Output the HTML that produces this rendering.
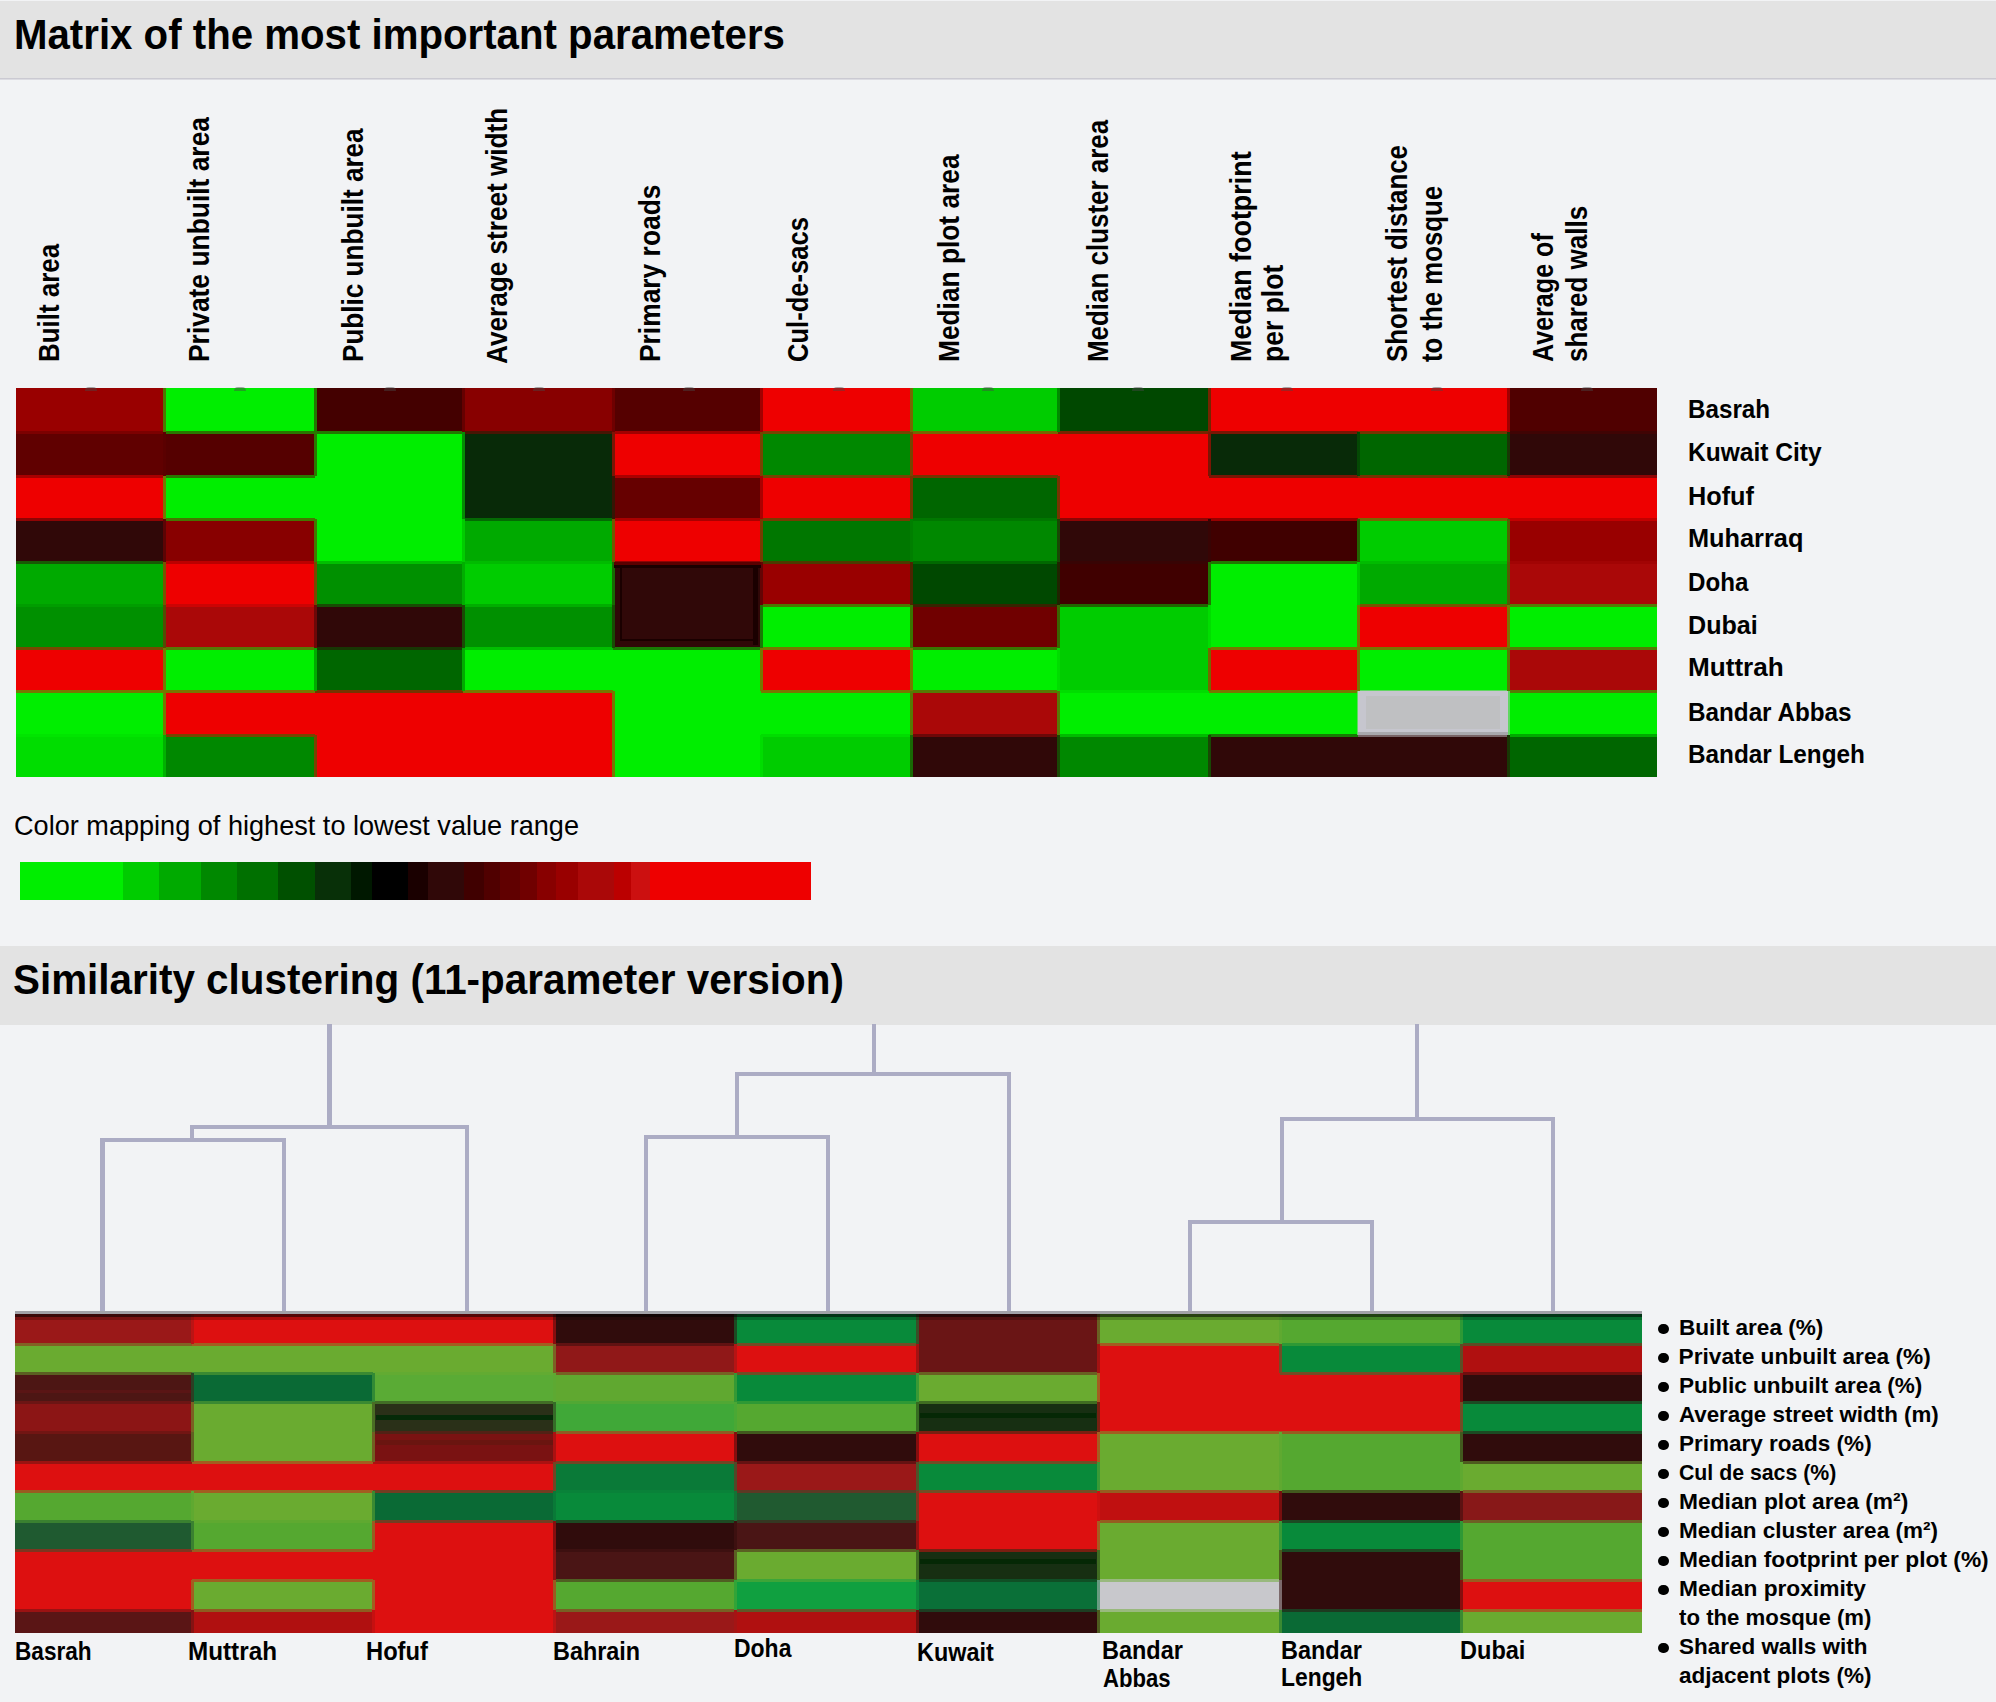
<!DOCTYPE html>
<html><head><meta charset="utf-8"><style>
html,body{margin:0;padding:0;}
body{width:1996px;height:1702px;background:#f2f3f5;position:relative;overflow:hidden;font-family:"Liberation Sans",sans-serif;}
.t{position:absolute;white-space:nowrap;line-height:1;transform-origin:0 0;color:#000;}
.r{position:absolute;}
</style></head><body>
<div class="r" style="left:0.00px;top:1.00px;width:1996.00px;height:77.00px;background:#e3e3e3;"></div>
<div class="r" style="left:0.00px;top:78.00px;width:1996.00px;height:1.00px;background:#cbcad2;"></div>
<div class="r" style="left:0.00px;top:79.00px;width:1996.00px;height:1.00px;background:#dcdce2;"></div>
<div class="t" style="left:13.68px;top:13.83px;font-size:41.90px;font-weight:700;transform:scaleX(0.9600)">Matrix of the most important parameters</div>
<div class="r" style="left:0.00px;top:946.00px;width:1996.00px;height:78.50px;background:#e3e3e3;"></div>
<div class="t" style="left:12.67px;top:959.45px;font-size:42.00px;font-weight:700;transform:scaleX(0.9620)">Similarity clustering (11-parameter version)</div>
<div class="r" style="left:16.00px;top:388.00px;width:148.00px;height:44.00px;background:#990000;"></div>
<div class="r" style="left:164.00px;top:388.00px;width:151.00px;height:44.00px;background:#00ee00;"></div>
<div class="r" style="left:315.00px;top:388.00px;width:148.00px;height:44.00px;background:#440000;"></div>
<div class="r" style="left:463.00px;top:388.00px;width:150.00px;height:44.00px;background:#880000;"></div>
<div class="r" style="left:613.00px;top:388.00px;width:148.00px;height:44.00px;background:#550000;"></div>
<div class="r" style="left:761.00px;top:388.00px;width:150.00px;height:44.00px;background:#ee0000;"></div>
<div class="r" style="left:911.00px;top:388.00px;width:147.00px;height:44.00px;background:#00cc00;"></div>
<div class="r" style="left:1058.00px;top:388.00px;width:151.00px;height:44.00px;background:#004800;"></div>
<div class="r" style="left:1209.00px;top:388.00px;width:149.00px;height:44.00px;background:#ee0000;"></div>
<div class="r" style="left:1358.00px;top:388.00px;width:150.00px;height:44.00px;background:#ee0000;"></div>
<div class="r" style="left:1508.00px;top:388.00px;width:149.00px;height:44.00px;background:#500000;"></div>
<div class="r" style="left:16.00px;top:432.00px;width:148.00px;height:44.00px;background:#600000;"></div>
<div class="r" style="left:164.00px;top:432.00px;width:151.00px;height:44.00px;background:#550000;"></div>
<div class="r" style="left:315.00px;top:432.00px;width:148.00px;height:44.00px;background:#00ee00;"></div>
<div class="r" style="left:463.00px;top:432.00px;width:150.00px;height:44.00px;background:#082a08;"></div>
<div class="r" style="left:613.00px;top:432.00px;width:148.00px;height:44.00px;background:#ee0000;"></div>
<div class="r" style="left:761.00px;top:432.00px;width:150.00px;height:44.00px;background:#008800;"></div>
<div class="r" style="left:911.00px;top:432.00px;width:147.00px;height:44.00px;background:#ee0000;"></div>
<div class="r" style="left:1058.00px;top:432.00px;width:151.00px;height:44.00px;background:#ee0000;"></div>
<div class="r" style="left:1209.00px;top:432.00px;width:149.00px;height:44.00px;background:#082a08;"></div>
<div class="r" style="left:1358.00px;top:432.00px;width:150.00px;height:44.00px;background:#006600;"></div>
<div class="r" style="left:1508.00px;top:432.00px;width:149.00px;height:44.00px;background:#300808;"></div>
<div class="r" style="left:16.00px;top:476.00px;width:148.00px;height:43.00px;background:#ee0000;"></div>
<div class="r" style="left:164.00px;top:476.00px;width:151.00px;height:43.00px;background:#00ee00;"></div>
<div class="r" style="left:315.00px;top:476.00px;width:148.00px;height:43.00px;background:#00ee00;"></div>
<div class="r" style="left:463.00px;top:476.00px;width:150.00px;height:43.00px;background:#082a08;"></div>
<div class="r" style="left:613.00px;top:476.00px;width:148.00px;height:43.00px;background:#660000;"></div>
<div class="r" style="left:761.00px;top:476.00px;width:150.00px;height:43.00px;background:#ee0000;"></div>
<div class="r" style="left:911.00px;top:476.00px;width:147.00px;height:43.00px;background:#006600;"></div>
<div class="r" style="left:1058.00px;top:476.00px;width:151.00px;height:43.00px;background:#ee0000;"></div>
<div class="r" style="left:1209.00px;top:476.00px;width:149.00px;height:43.00px;background:#ee0000;"></div>
<div class="r" style="left:1358.00px;top:476.00px;width:150.00px;height:43.00px;background:#ee0000;"></div>
<div class="r" style="left:1508.00px;top:476.00px;width:149.00px;height:43.00px;background:#ee0000;"></div>
<div class="r" style="left:16.00px;top:519.00px;width:148.00px;height:43.00px;background:#300808;"></div>
<div class="r" style="left:164.00px;top:519.00px;width:151.00px;height:43.00px;background:#880000;"></div>
<div class="r" style="left:315.00px;top:519.00px;width:148.00px;height:43.00px;background:#00ee00;"></div>
<div class="r" style="left:463.00px;top:519.00px;width:150.00px;height:43.00px;background:#00aa00;"></div>
<div class="r" style="left:613.00px;top:519.00px;width:148.00px;height:43.00px;background:#ee0000;"></div>
<div class="r" style="left:761.00px;top:519.00px;width:150.00px;height:43.00px;background:#007700;"></div>
<div class="r" style="left:911.00px;top:519.00px;width:147.00px;height:43.00px;background:#008800;"></div>
<div class="r" style="left:1058.00px;top:519.00px;width:151.00px;height:43.00px;background:#300808;"></div>
<div class="r" style="left:1209.00px;top:519.00px;width:149.00px;height:43.00px;background:#400000;"></div>
<div class="r" style="left:1358.00px;top:519.00px;width:150.00px;height:43.00px;background:#00cc00;"></div>
<div class="r" style="left:1508.00px;top:519.00px;width:149.00px;height:43.00px;background:#990000;"></div>
<div class="r" style="left:16.00px;top:562.00px;width:148.00px;height:43.00px;background:#00aa00;"></div>
<div class="r" style="left:164.00px;top:562.00px;width:151.00px;height:43.00px;background:#ee0000;"></div>
<div class="r" style="left:315.00px;top:562.00px;width:148.00px;height:43.00px;background:#009000;"></div>
<div class="r" style="left:463.00px;top:562.00px;width:150.00px;height:43.00px;background:#00cc00;"></div>
<div class="r" style="left:613.00px;top:562.00px;width:148.00px;height:43.00px;background:#300808;"></div>
<div class="r" style="left:761.00px;top:562.00px;width:150.00px;height:43.00px;background:#990000;"></div>
<div class="r" style="left:911.00px;top:562.00px;width:147.00px;height:43.00px;background:#004800;"></div>
<div class="r" style="left:1058.00px;top:562.00px;width:151.00px;height:43.00px;background:#400000;"></div>
<div class="r" style="left:1209.00px;top:562.00px;width:149.00px;height:43.00px;background:#00ee00;"></div>
<div class="r" style="left:1358.00px;top:562.00px;width:150.00px;height:43.00px;background:#00aa00;"></div>
<div class="r" style="left:1508.00px;top:562.00px;width:149.00px;height:43.00px;background:#aa0808;"></div>
<div class="r" style="left:16.00px;top:605.00px;width:148.00px;height:43.00px;background:#009000;"></div>
<div class="r" style="left:164.00px;top:605.00px;width:151.00px;height:43.00px;background:#aa0808;"></div>
<div class="r" style="left:315.00px;top:605.00px;width:148.00px;height:43.00px;background:#300808;"></div>
<div class="r" style="left:463.00px;top:605.00px;width:150.00px;height:43.00px;background:#009000;"></div>
<div class="r" style="left:613.00px;top:605.00px;width:148.00px;height:43.00px;background:#300808;"></div>
<div class="r" style="left:761.00px;top:605.00px;width:150.00px;height:43.00px;background:#00ee00;"></div>
<div class="r" style="left:911.00px;top:605.00px;width:147.00px;height:43.00px;background:#700000;"></div>
<div class="r" style="left:1058.00px;top:605.00px;width:151.00px;height:43.00px;background:#00cc00;"></div>
<div class="r" style="left:1209.00px;top:605.00px;width:149.00px;height:43.00px;background:#00ee00;"></div>
<div class="r" style="left:1358.00px;top:605.00px;width:150.00px;height:43.00px;background:#ee0000;"></div>
<div class="r" style="left:1508.00px;top:605.00px;width:149.00px;height:43.00px;background:#00ee00;"></div>
<div class="r" style="left:16.00px;top:648.00px;width:148.00px;height:43.00px;background:#ee0000;"></div>
<div class="r" style="left:164.00px;top:648.00px;width:151.00px;height:43.00px;background:#00ee00;"></div>
<div class="r" style="left:315.00px;top:648.00px;width:148.00px;height:43.00px;background:#006600;"></div>
<div class="r" style="left:463.00px;top:648.00px;width:150.00px;height:43.00px;background:#00ee00;"></div>
<div class="r" style="left:613.00px;top:648.00px;width:148.00px;height:43.00px;background:#00ee00;"></div>
<div class="r" style="left:761.00px;top:648.00px;width:150.00px;height:43.00px;background:#ee0000;"></div>
<div class="r" style="left:911.00px;top:648.00px;width:147.00px;height:43.00px;background:#00ee00;"></div>
<div class="r" style="left:1058.00px;top:648.00px;width:151.00px;height:43.00px;background:#00cc00;"></div>
<div class="r" style="left:1209.00px;top:648.00px;width:149.00px;height:43.00px;background:#ee0000;"></div>
<div class="r" style="left:1358.00px;top:648.00px;width:150.00px;height:43.00px;background:#00ee00;"></div>
<div class="r" style="left:1508.00px;top:648.00px;width:149.00px;height:43.00px;background:#aa0808;"></div>
<div class="r" style="left:16.00px;top:691.00px;width:148.00px;height:44.00px;background:#00ee00;"></div>
<div class="r" style="left:164.00px;top:691.00px;width:151.00px;height:44.00px;background:#ee0000;"></div>
<div class="r" style="left:315.00px;top:691.00px;width:148.00px;height:44.00px;background:#ee0000;"></div>
<div class="r" style="left:463.00px;top:691.00px;width:150.00px;height:44.00px;background:#ee0000;"></div>
<div class="r" style="left:613.00px;top:691.00px;width:148.00px;height:44.00px;background:#00ee00;"></div>
<div class="r" style="left:761.00px;top:691.00px;width:150.00px;height:44.00px;background:#00ee00;"></div>
<div class="r" style="left:911.00px;top:691.00px;width:147.00px;height:44.00px;background:#aa0808;"></div>
<div class="r" style="left:1058.00px;top:691.00px;width:151.00px;height:44.00px;background:#00ee00;"></div>
<div class="r" style="left:1209.00px;top:691.00px;width:149.00px;height:44.00px;background:#00ee00;"></div>
<div class="r" style="left:1358.00px;top:691.00px;width:150.00px;height:44.00px;background:#c0c0c4;"></div>
<div class="r" style="left:1508.00px;top:691.00px;width:149.00px;height:44.00px;background:#00ee00;"></div>
<div class="r" style="left:16.00px;top:735.00px;width:148.00px;height:42.00px;background:#00dd00;"></div>
<div class="r" style="left:164.00px;top:735.00px;width:151.00px;height:42.00px;background:#008800;"></div>
<div class="r" style="left:315.00px;top:735.00px;width:148.00px;height:42.00px;background:#ee0000;"></div>
<div class="r" style="left:463.00px;top:735.00px;width:150.00px;height:42.00px;background:#ee0000;"></div>
<div class="r" style="left:613.00px;top:735.00px;width:148.00px;height:42.00px;background:#00ee00;"></div>
<div class="r" style="left:761.00px;top:735.00px;width:150.00px;height:42.00px;background:#00cc00;"></div>
<div class="r" style="left:911.00px;top:735.00px;width:147.00px;height:42.00px;background:#300808;"></div>
<div class="r" style="left:1058.00px;top:735.00px;width:151.00px;height:42.00px;background:#008800;"></div>
<div class="r" style="left:1209.00px;top:735.00px;width:149.00px;height:42.00px;background:#300808;"></div>
<div class="r" style="left:1358.00px;top:735.00px;width:150.00px;height:42.00px;background:#300808;"></div>
<div class="r" style="left:1508.00px;top:735.00px;width:149.00px;height:42.00px;background:#006600;"></div>
<div class="r" style="left:16.00px;top:431.00px;width:148.00px;height:3.00px;background:#7c0000;"></div>
<div class="r" style="left:164.00px;top:431.00px;width:151.00px;height:3.00px;background:#2a7700;"></div>
<div class="r" style="left:315.00px;top:431.00px;width:148.00px;height:3.00px;background:#227700;"></div>
<div class="r" style="left:463.00px;top:431.00px;width:150.00px;height:3.00px;background:#481504;"></div>
<div class="r" style="left:613.00px;top:431.00px;width:148.00px;height:3.00px;background:#a10000;"></div>
<div class="r" style="left:761.00px;top:431.00px;width:150.00px;height:3.00px;background:#774400;"></div>
<div class="r" style="left:911.00px;top:431.00px;width:147.00px;height:3.00px;background:#776600;"></div>
<div class="r" style="left:1058.00px;top:431.00px;width:151.00px;height:3.00px;background:#772400;"></div>
<div class="r" style="left:1209.00px;top:431.00px;width:149.00px;height:3.00px;background:#7b1504;"></div>
<div class="r" style="left:1358.00px;top:431.00px;width:150.00px;height:3.00px;background:#773300;"></div>
<div class="r" style="left:1508.00px;top:431.00px;width:149.00px;height:3.00px;background:#400404;"></div>
<div class="r" style="left:16.00px;top:475.00px;width:148.00px;height:3.00px;background:#a70000;"></div>
<div class="r" style="left:164.00px;top:475.00px;width:151.00px;height:3.00px;background:#2a7700;"></div>
<div class="r" style="left:613.00px;top:475.00px;width:148.00px;height:3.00px;background:#aa0000;"></div>
<div class="r" style="left:761.00px;top:475.00px;width:150.00px;height:3.00px;background:#774400;"></div>
<div class="r" style="left:911.00px;top:475.00px;width:147.00px;height:3.00px;background:#773300;"></div>
<div class="r" style="left:1209.00px;top:475.00px;width:149.00px;height:3.00px;background:#7b1504;"></div>
<div class="r" style="left:1358.00px;top:475.00px;width:150.00px;height:3.00px;background:#773300;"></div>
<div class="r" style="left:1508.00px;top:475.00px;width:149.00px;height:3.00px;background:#8f0404;"></div>
<div class="r" style="left:16.00px;top:518.00px;width:148.00px;height:3.00px;background:#8f0404;"></div>
<div class="r" style="left:164.00px;top:518.00px;width:151.00px;height:3.00px;background:#447700;"></div>
<div class="r" style="left:463.00px;top:518.00px;width:150.00px;height:3.00px;background:#046a04;"></div>
<div class="r" style="left:613.00px;top:518.00px;width:148.00px;height:3.00px;background:#aa0000;"></div>
<div class="r" style="left:761.00px;top:518.00px;width:150.00px;height:3.00px;background:#773b00;"></div>
<div class="r" style="left:911.00px;top:518.00px;width:147.00px;height:3.00px;background:#007700;"></div>
<div class="r" style="left:1058.00px;top:518.00px;width:151.00px;height:3.00px;background:#8f0404;"></div>
<div class="r" style="left:1209.00px;top:518.00px;width:149.00px;height:3.00px;background:#970000;"></div>
<div class="r" style="left:1358.00px;top:518.00px;width:150.00px;height:3.00px;background:#776600;"></div>
<div class="r" style="left:1508.00px;top:518.00px;width:149.00px;height:3.00px;background:#c30000;"></div>
<div class="r" style="left:16.00px;top:561.00px;width:148.00px;height:3.00px;background:#185904;"></div>
<div class="r" style="left:164.00px;top:561.00px;width:151.00px;height:3.00px;background:#bb0000;"></div>
<div class="r" style="left:315.00px;top:561.00px;width:148.00px;height:3.00px;background:#00bf00;"></div>
<div class="r" style="left:463.00px;top:561.00px;width:150.00px;height:3.00px;background:#00bb00;"></div>
<div class="r" style="left:613.00px;top:561.00px;width:148.00px;height:3.00px;background:#8f0404;"></div>
<div class="r" style="left:761.00px;top:561.00px;width:150.00px;height:3.00px;background:#4c3b00;"></div>
<div class="r" style="left:911.00px;top:561.00px;width:147.00px;height:3.00px;background:#006800;"></div>
<div class="r" style="left:1058.00px;top:561.00px;width:151.00px;height:3.00px;background:#380404;"></div>
<div class="r" style="left:1209.00px;top:561.00px;width:149.00px;height:3.00px;background:#207700;"></div>
<div class="r" style="left:1358.00px;top:561.00px;width:150.00px;height:3.00px;background:#00bb00;"></div>
<div class="r" style="left:1508.00px;top:561.00px;width:149.00px;height:3.00px;background:#a10404;"></div>
<div class="r" style="left:16.00px;top:604.00px;width:148.00px;height:3.00px;background:#009d00;"></div>
<div class="r" style="left:164.00px;top:604.00px;width:151.00px;height:3.00px;background:#cc0404;"></div>
<div class="r" style="left:315.00px;top:604.00px;width:148.00px;height:3.00px;background:#184c04;"></div>
<div class="r" style="left:463.00px;top:604.00px;width:150.00px;height:3.00px;background:#00ae00;"></div>
<div class="r" style="left:761.00px;top:604.00px;width:150.00px;height:3.00px;background:#4c7700;"></div>
<div class="r" style="left:911.00px;top:604.00px;width:147.00px;height:3.00px;background:#382400;"></div>
<div class="r" style="left:1058.00px;top:604.00px;width:151.00px;height:3.00px;background:#206600;"></div>
<div class="r" style="left:1358.00px;top:604.00px;width:150.00px;height:3.00px;background:#775500;"></div>
<div class="r" style="left:1508.00px;top:604.00px;width:149.00px;height:3.00px;background:#557b04;"></div>
<div class="r" style="left:16.00px;top:647.00px;width:148.00px;height:3.00px;background:#774800;"></div>
<div class="r" style="left:164.00px;top:647.00px;width:151.00px;height:3.00px;background:#557b04;"></div>
<div class="r" style="left:315.00px;top:647.00px;width:148.00px;height:3.00px;background:#183704;"></div>
<div class="r" style="left:463.00px;top:647.00px;width:150.00px;height:3.00px;background:#00bf00;"></div>
<div class="r" style="left:613.00px;top:647.00px;width:148.00px;height:3.00px;background:#187b04;"></div>
<div class="r" style="left:761.00px;top:647.00px;width:150.00px;height:3.00px;background:#777700;"></div>
<div class="r" style="left:911.00px;top:647.00px;width:147.00px;height:3.00px;background:#387700;"></div>
<div class="r" style="left:1209.00px;top:647.00px;width:149.00px;height:3.00px;background:#777700;"></div>
<div class="r" style="left:1358.00px;top:647.00px;width:150.00px;height:3.00px;background:#777700;"></div>
<div class="r" style="left:1508.00px;top:647.00px;width:149.00px;height:3.00px;background:#557b04;"></div>
<div class="r" style="left:16.00px;top:690.00px;width:148.00px;height:3.00px;background:#777700;"></div>
<div class="r" style="left:164.00px;top:690.00px;width:151.00px;height:3.00px;background:#777700;"></div>
<div class="r" style="left:315.00px;top:690.00px;width:148.00px;height:3.00px;background:#773300;"></div>
<div class="r" style="left:463.00px;top:690.00px;width:150.00px;height:3.00px;background:#777700;"></div>
<div class="r" style="left:761.00px;top:690.00px;width:150.00px;height:3.00px;background:#777700;"></div>
<div class="r" style="left:911.00px;top:690.00px;width:147.00px;height:3.00px;background:#557b04;"></div>
<div class="r" style="left:1058.00px;top:690.00px;width:151.00px;height:3.00px;background:#00dd00;"></div>
<div class="r" style="left:1209.00px;top:690.00px;width:149.00px;height:3.00px;background:#777700;"></div>
<div class="r" style="left:1358.00px;top:690.00px;width:150.00px;height:3.00px;background:#60d762;"></div>
<div class="r" style="left:1508.00px;top:690.00px;width:149.00px;height:3.00px;background:#557b04;"></div>
<div class="r" style="left:16.00px;top:734.00px;width:148.00px;height:3.00px;background:#00e500;"></div>
<div class="r" style="left:164.00px;top:734.00px;width:151.00px;height:3.00px;background:#774400;"></div>
<div class="r" style="left:761.00px;top:734.00px;width:150.00px;height:3.00px;background:#00dd00;"></div>
<div class="r" style="left:911.00px;top:734.00px;width:147.00px;height:3.00px;background:#6d0808;"></div>
<div class="r" style="left:1058.00px;top:734.00px;width:151.00px;height:3.00px;background:#00bb00;"></div>
<div class="r" style="left:1209.00px;top:734.00px;width:149.00px;height:3.00px;background:#187b04;"></div>
<div class="r" style="left:1358.00px;top:734.00px;width:150.00px;height:3.00px;background:#786466;"></div>
<div class="r" style="left:1508.00px;top:734.00px;width:149.00px;height:3.00px;background:#00aa00;"></div>
<div class="r" style="left:163.00px;top:388.00px;width:3.00px;height:44.00px;background:#4c7700;"></div>
<div class="r" style="left:163.00px;top:432.00px;width:3.00px;height:44.00px;background:#5a0000;"></div>
<div class="r" style="left:163.00px;top:476.00px;width:3.00px;height:43.00px;background:#777700;"></div>
<div class="r" style="left:163.00px;top:519.00px;width:3.00px;height:43.00px;background:#5c0404;"></div>
<div class="r" style="left:163.00px;top:562.00px;width:3.00px;height:43.00px;background:#775500;"></div>
<div class="r" style="left:163.00px;top:605.00px;width:3.00px;height:43.00px;background:#554c04;"></div>
<div class="r" style="left:163.00px;top:648.00px;width:3.00px;height:43.00px;background:#777700;"></div>
<div class="r" style="left:163.00px;top:691.00px;width:3.00px;height:44.00px;background:#777700;"></div>
<div class="r" style="left:163.00px;top:735.00px;width:3.00px;height:42.00px;background:#00b200;"></div>
<div class="r" style="left:314.00px;top:388.00px;width:3.00px;height:44.00px;background:#227700;"></div>
<div class="r" style="left:314.00px;top:432.00px;width:3.00px;height:44.00px;background:#2a7700;"></div>
<div class="r" style="left:314.00px;top:519.00px;width:3.00px;height:43.00px;background:#447700;"></div>
<div class="r" style="left:314.00px;top:562.00px;width:3.00px;height:43.00px;background:#774800;"></div>
<div class="r" style="left:314.00px;top:605.00px;width:3.00px;height:43.00px;background:#6d0808;"></div>
<div class="r" style="left:314.00px;top:648.00px;width:3.00px;height:43.00px;background:#00aa00;"></div>
<div class="r" style="left:314.00px;top:735.00px;width:3.00px;height:42.00px;background:#774400;"></div>
<div class="r" style="left:462.00px;top:388.00px;width:3.00px;height:44.00px;background:#660000;"></div>
<div class="r" style="left:462.00px;top:432.00px;width:3.00px;height:44.00px;background:#048c04;"></div>
<div class="r" style="left:462.00px;top:476.00px;width:3.00px;height:43.00px;background:#048c04;"></div>
<div class="r" style="left:462.00px;top:519.00px;width:3.00px;height:43.00px;background:#00cc00;"></div>
<div class="r" style="left:462.00px;top:562.00px;width:3.00px;height:43.00px;background:#00ae00;"></div>
<div class="r" style="left:462.00px;top:605.00px;width:3.00px;height:43.00px;background:#184c04;"></div>
<div class="r" style="left:462.00px;top:648.00px;width:3.00px;height:43.00px;background:#00aa00;"></div>
<div class="r" style="left:612.00px;top:388.00px;width:3.00px;height:44.00px;background:#6e0000;"></div>
<div class="r" style="left:612.00px;top:432.00px;width:3.00px;height:44.00px;background:#7b1504;"></div>
<div class="r" style="left:612.00px;top:476.00px;width:3.00px;height:43.00px;background:#371504;"></div>
<div class="r" style="left:612.00px;top:519.00px;width:3.00px;height:43.00px;background:#775500;"></div>
<div class="r" style="left:612.00px;top:562.00px;width:3.00px;height:43.00px;background:#186a04;"></div>
<div class="r" style="left:612.00px;top:605.00px;width:3.00px;height:43.00px;background:#184c04;"></div>
<div class="r" style="left:612.00px;top:691.00px;width:3.00px;height:44.00px;background:#777700;"></div>
<div class="r" style="left:612.00px;top:735.00px;width:3.00px;height:42.00px;background:#777700;"></div>
<div class="r" style="left:760.00px;top:388.00px;width:3.00px;height:44.00px;background:#a10000;"></div>
<div class="r" style="left:760.00px;top:432.00px;width:3.00px;height:44.00px;background:#774400;"></div>
<div class="r" style="left:760.00px;top:476.00px;width:3.00px;height:43.00px;background:#aa0000;"></div>
<div class="r" style="left:760.00px;top:519.00px;width:3.00px;height:43.00px;background:#773b00;"></div>
<div class="r" style="left:760.00px;top:562.00px;width:3.00px;height:43.00px;background:#640404;"></div>
<div class="r" style="left:760.00px;top:605.00px;width:3.00px;height:43.00px;background:#187b04;"></div>
<div class="r" style="left:760.00px;top:648.00px;width:3.00px;height:43.00px;background:#777700;"></div>
<div class="r" style="left:760.00px;top:735.00px;width:3.00px;height:42.00px;background:#00dd00;"></div>
<div class="r" style="left:910.00px;top:388.00px;width:3.00px;height:44.00px;background:#776600;"></div>
<div class="r" style="left:910.00px;top:432.00px;width:3.00px;height:44.00px;background:#774400;"></div>
<div class="r" style="left:910.00px;top:476.00px;width:3.00px;height:43.00px;background:#773300;"></div>
<div class="r" style="left:910.00px;top:519.00px;width:3.00px;height:43.00px;background:#007f00;"></div>
<div class="r" style="left:910.00px;top:562.00px;width:3.00px;height:43.00px;background:#4c2400;"></div>
<div class="r" style="left:910.00px;top:605.00px;width:3.00px;height:43.00px;background:#387700;"></div>
<div class="r" style="left:910.00px;top:648.00px;width:3.00px;height:43.00px;background:#777700;"></div>
<div class="r" style="left:910.00px;top:691.00px;width:3.00px;height:44.00px;background:#557b04;"></div>
<div class="r" style="left:910.00px;top:735.00px;width:3.00px;height:42.00px;background:#186a04;"></div>
<div class="r" style="left:1057.00px;top:388.00px;width:3.00px;height:44.00px;background:#008a00;"></div>
<div class="r" style="left:1057.00px;top:476.00px;width:3.00px;height:43.00px;background:#773300;"></div>
<div class="r" style="left:1057.00px;top:519.00px;width:3.00px;height:43.00px;background:#184804;"></div>
<div class="r" style="left:1057.00px;top:562.00px;width:3.00px;height:43.00px;background:#202400;"></div>
<div class="r" style="left:1057.00px;top:605.00px;width:3.00px;height:43.00px;background:#386600;"></div>
<div class="r" style="left:1057.00px;top:648.00px;width:3.00px;height:43.00px;background:#00dd00;"></div>
<div class="r" style="left:1057.00px;top:691.00px;width:3.00px;height:44.00px;background:#557b04;"></div>
<div class="r" style="left:1057.00px;top:735.00px;width:3.00px;height:42.00px;background:#184804;"></div>
<div class="r" style="left:1208.00px;top:388.00px;width:3.00px;height:44.00px;background:#772400;"></div>
<div class="r" style="left:1208.00px;top:432.00px;width:3.00px;height:44.00px;background:#7b1504;"></div>
<div class="r" style="left:1208.00px;top:519.00px;width:3.00px;height:43.00px;background:#380404;"></div>
<div class="r" style="left:1208.00px;top:562.00px;width:3.00px;height:43.00px;background:#207700;"></div>
<div class="r" style="left:1208.00px;top:605.00px;width:3.00px;height:43.00px;background:#00dd00;"></div>
<div class="r" style="left:1208.00px;top:648.00px;width:3.00px;height:43.00px;background:#776600;"></div>
<div class="r" style="left:1208.00px;top:735.00px;width:3.00px;height:42.00px;background:#184804;"></div>
<div class="r" style="left:1357.00px;top:432.00px;width:3.00px;height:44.00px;background:#044804;"></div>
<div class="r" style="left:1357.00px;top:519.00px;width:3.00px;height:43.00px;background:#206600;"></div>
<div class="r" style="left:1357.00px;top:562.00px;width:3.00px;height:43.00px;background:#00cc00;"></div>
<div class="r" style="left:1357.00px;top:605.00px;width:3.00px;height:43.00px;background:#777700;"></div>
<div class="r" style="left:1357.00px;top:648.00px;width:3.00px;height:43.00px;background:#777700;"></div>
<div class="r" style="left:1357.00px;top:691.00px;width:3.00px;height:44.00px;background:#60d762;"></div>
<div class="r" style="left:1507.00px;top:388.00px;width:3.00px;height:44.00px;background:#9f0000;"></div>
<div class="r" style="left:1507.00px;top:432.00px;width:3.00px;height:44.00px;background:#183704;"></div>
<div class="r" style="left:1507.00px;top:519.00px;width:3.00px;height:43.00px;background:#4c6600;"></div>
<div class="r" style="left:1507.00px;top:562.00px;width:3.00px;height:43.00px;background:#555904;"></div>
<div class="r" style="left:1507.00px;top:605.00px;width:3.00px;height:43.00px;background:#777700;"></div>
<div class="r" style="left:1507.00px;top:648.00px;width:3.00px;height:43.00px;background:#557b04;"></div>
<div class="r" style="left:1507.00px;top:691.00px;width:3.00px;height:44.00px;background:#60d762;"></div>
<div class="r" style="left:1507.00px;top:735.00px;width:3.00px;height:42.00px;background:#183704;"></div>
<div class="r" style="left:614.00px;top:562.00px;width:147.00px;height:3.00px;background:#5a0000;"></div>
<div class="r" style="left:614.00px;top:565.00px;width:147.00px;height:3.00px;background:#1a0000;"></div>
<div class="r" style="left:619.5px;top:567px;width:134px;height:72px;border:2px solid #1a0000;border-top:none"></div>
<div class="r" style="left:753.00px;top:565.00px;width:5.00px;height:80.00px;background:#1a0000;"></div>
<div class="r" style="left:1358.00px;top:691.00px;width:150.00px;height:44.00px;background:#c6c6ce;"></div>
<div class="r" style="left:1366.00px;top:696.00px;width:134.00px;height:33.00px;background:#bfc0c2;"></div>
<div class="r" style="left:1358.00px;top:732.00px;width:150.00px;height:3.00px;background:#a8a8ac;"></div>
<div class="r" style="left:84.5px;top:386.5px;width:12px;height:4px;border-radius:6px 6px 0 0;background:rgba(70,70,70,0.45)"></div>
<div class="r" style="left:234.1px;top:386.5px;width:12px;height:4px;border-radius:6px 6px 0 0;background:rgba(70,70,70,0.45)"></div>
<div class="r" style="left:383.7px;top:386.5px;width:12px;height:4px;border-radius:6px 6px 0 0;background:rgba(70,70,70,0.45)"></div>
<div class="r" style="left:533.3px;top:386.5px;width:12px;height:4px;border-radius:6px 6px 0 0;background:rgba(70,70,70,0.45)"></div>
<div class="r" style="left:682.9px;top:386.5px;width:12px;height:4px;border-radius:6px 6px 0 0;background:rgba(70,70,70,0.45)"></div>
<div class="r" style="left:832.5px;top:386.5px;width:12px;height:4px;border-radius:6px 6px 0 0;background:rgba(70,70,70,0.45)"></div>
<div class="r" style="left:982.1px;top:386.5px;width:12px;height:4px;border-radius:6px 6px 0 0;background:rgba(70,70,70,0.45)"></div>
<div class="r" style="left:1131.7px;top:386.5px;width:12px;height:4px;border-radius:6px 6px 0 0;background:rgba(70,70,70,0.45)"></div>
<div class="r" style="left:1281.3px;top:386.5px;width:12px;height:4px;border-radius:6px 6px 0 0;background:rgba(70,70,70,0.45)"></div>
<div class="r" style="left:1430.9px;top:386.5px;width:12px;height:4px;border-radius:6px 6px 0 0;background:rgba(70,70,70,0.45)"></div>
<div class="r" style="left:1580.5px;top:386.5px;width:12px;height:4px;border-radius:6px 6px 0 0;background:rgba(70,70,70,0.45)"></div>
<div class="t" style="left:34.51px;top:362.21px;font-size:28.70px;font-weight:700;transform:rotate(-90deg) scaleX(0.9033)">Built area</div>
<div class="t" style="left:185.21px;top:362.35px;font-size:28.70px;font-weight:700;transform:rotate(-90deg) scaleX(0.9202)">Private unbuilt area</div>
<div class="t" style="left:338.91px;top:362.33px;font-size:28.70px;font-weight:700;transform:rotate(-90deg) scaleX(0.9103)">Public unbuilt area</div>
<div class="t" style="left:482.71px;top:363.83px;font-size:28.70px;font-weight:700;transform:rotate(-90deg) scaleX(0.9114)">Average street width</div>
<div class="t" style="left:635.71px;top:362.35px;font-size:28.70px;font-weight:700;transform:rotate(-90deg) scaleX(0.9198)">Primary roads</div>
<div class="t" style="left:783.71px;top:362.29px;font-size:28.70px;font-weight:700;transform:rotate(-90deg) scaleX(0.8913)">Cul-de-sacs</div>
<div class="t" style="left:934.71px;top:362.34px;font-size:28.70px;font-weight:700;transform:rotate(-90deg) scaleX(0.9167)">Median plot area</div>
<div class="t" style="left:1084.31px;top:362.32px;font-size:28.70px;font-weight:700;transform:rotate(-90deg) scaleX(0.9040)">Median cluster area</div>
<div class="t" style="left:1226.71px;top:362.38px;font-size:28.70px;font-weight:700;transform:rotate(-90deg) scaleX(0.9374)">Median footprint</div>
<div class="t" style="left:1259.21px;top:362.36px;font-size:28.70px;font-weight:700;transform:rotate(-90deg) scaleX(0.9246)">per plot</div>
<div class="t" style="left:1383.21px;top:362.31px;font-size:28.70px;font-weight:700;transform:rotate(-90deg) scaleX(0.9014)">Shortest distance</div>
<div class="t" style="left:1417.51px;top:362.30px;font-size:28.70px;font-weight:700;transform:rotate(-90deg) scaleX(0.8980)">to the mosque</div>
<div class="t" style="left:1529.41px;top:362.26px;font-size:28.70px;font-weight:700;transform:rotate(-90deg) scaleX(0.8745)">Average of</div>
<div class="t" style="left:1562.71px;top:362.32px;font-size:28.70px;font-weight:700;transform:rotate(-90deg) scaleX(0.9064)">shared walls</div>
<div class="t" style="left:1687.81px;top:395.78px;font-size:26.60px;font-weight:700;transform:scaleX(0.9100)">Basrah</div>
<div class="t" style="left:1687.78px;top:438.78px;font-size:26.60px;font-weight:700;transform:scaleX(0.9230)">Kuwait City</div>
<div class="t" style="left:1687.73px;top:482.78px;font-size:26.60px;font-weight:700;transform:scaleX(0.9500)">Hofuf</div>
<div class="t" style="left:1687.73px;top:525.38px;font-size:26.60px;font-weight:700;transform:scaleX(0.9520)">Muharraq</div>
<div class="t" style="left:1687.81px;top:569.18px;font-size:26.60px;font-weight:700;transform:scaleX(0.9070)">Doha</div>
<div class="t" style="left:1687.74px;top:612.28px;font-size:26.60px;font-weight:700;transform:scaleX(0.9440)">Dubai</div>
<div class="t" style="left:1687.67px;top:653.68px;font-size:26.60px;font-weight:700;transform:scaleX(0.9820)">Muttrah</div>
<div class="t" style="left:1687.80px;top:699.38px;font-size:26.60px;font-weight:700;transform:scaleX(0.9120)">Bandar Abbas</div>
<div class="t" style="left:1687.80px;top:740.78px;font-size:26.60px;font-weight:700;transform:scaleX(0.9140)">Bandar Lengeh</div>
<div class="t" style="left:14.24px;top:811.80px;font-size:28.00px;font-weight:400;transform:scaleX(0.9680)">Color mapping of highest to lowest value range</div>
<div class="r" style="left:20.20px;top:861.50px;width:102.80px;height:38.80px;background:#00ee00;"></div>
<div class="r" style="left:123.00px;top:861.50px;width:36.00px;height:38.80px;background:#00cc00;"></div>
<div class="r" style="left:159.00px;top:861.50px;width:42.00px;height:38.80px;background:#00aa00;"></div>
<div class="r" style="left:201.00px;top:861.50px;width:36.00px;height:38.80px;background:#008800;"></div>
<div class="r" style="left:237.00px;top:861.50px;width:41.00px;height:38.80px;background:#007000;"></div>
<div class="r" style="left:278.00px;top:861.50px;width:37.00px;height:38.80px;background:#005000;"></div>
<div class="r" style="left:315.00px;top:861.50px;width:36.00px;height:38.80px;background:#083008;"></div>
<div class="r" style="left:351.00px;top:861.50px;width:21.00px;height:38.80px;background:#001800;"></div>
<div class="r" style="left:372.00px;top:861.50px;width:36.00px;height:38.80px;background:#000000;"></div>
<div class="r" style="left:408.00px;top:861.50px;width:20.00px;height:38.80px;background:#1a0000;"></div>
<div class="r" style="left:428.00px;top:861.50px;width:36.00px;height:38.80px;background:#300808;"></div>
<div class="r" style="left:464.00px;top:861.50px;width:20.00px;height:38.80px;background:#400000;"></div>
<div class="r" style="left:484.00px;top:861.50px;width:16.00px;height:38.80px;background:#500000;"></div>
<div class="r" style="left:500.00px;top:861.50px;width:20.00px;height:38.80px;background:#600000;"></div>
<div class="r" style="left:520.00px;top:861.50px;width:17.00px;height:38.80px;background:#700000;"></div>
<div class="r" style="left:537.00px;top:861.50px;width:19.00px;height:38.80px;background:#880000;"></div>
<div class="r" style="left:556.00px;top:861.50px;width:22.00px;height:38.80px;background:#990000;"></div>
<div class="r" style="left:578.00px;top:861.50px;width:36.00px;height:38.80px;background:#aa0808;"></div>
<div class="r" style="left:614.00px;top:861.50px;width:17.00px;height:38.80px;background:#bb0000;"></div>
<div class="r" style="left:631.00px;top:861.50px;width:19.00px;height:38.80px;background:#cc1010;"></div>
<div class="r" style="left:650.00px;top:861.50px;width:161.40px;height:38.80px;background:#ee0000;"></div>
<div class="r" style="left:327.25px;top:1024.00px;width:4.50px;height:105.25px;background:#acacc4;"></div>
<div class="r" style="left:189.75px;top:1124.75px;width:279.50px;height:4.50px;background:#acacc4;"></div>
<div class="r" style="left:189.75px;top:1127.00px;width:4.50px;height:15.25px;background:#acacc4;"></div>
<div class="r" style="left:100.25px;top:1137.75px;width:186.00px;height:4.50px;background:#acacc4;"></div>
<div class="r" style="left:100.25px;top:1140.00px;width:4.50px;height:175.25px;background:#acacc4;"></div>
<div class="r" style="left:281.75px;top:1140.00px;width:4.50px;height:175.25px;background:#acacc4;"></div>
<div class="r" style="left:464.75px;top:1127.00px;width:4.50px;height:188.25px;background:#acacc4;"></div>
<div class="r" style="left:871.75px;top:1024.00px;width:4.50px;height:52.25px;background:#acacc4;"></div>
<div class="r" style="left:734.75px;top:1071.75px;width:276.50px;height:4.50px;background:#acacc4;"></div>
<div class="r" style="left:734.75px;top:1074.00px;width:4.50px;height:65.25px;background:#acacc4;"></div>
<div class="r" style="left:1006.75px;top:1074.00px;width:4.50px;height:241.25px;background:#acacc4;"></div>
<div class="r" style="left:643.75px;top:1134.75px;width:186.50px;height:4.50px;background:#acacc4;"></div>
<div class="r" style="left:643.75px;top:1137.00px;width:4.50px;height:178.25px;background:#acacc4;"></div>
<div class="r" style="left:825.75px;top:1137.00px;width:4.50px;height:178.25px;background:#acacc4;"></div>
<div class="r" style="left:1414.75px;top:1024.00px;width:4.50px;height:97.25px;background:#acacc4;"></div>
<div class="r" style="left:1279.75px;top:1116.75px;width:275.50px;height:4.50px;background:#acacc4;"></div>
<div class="r" style="left:1279.75px;top:1119.00px;width:4.50px;height:105.25px;background:#acacc4;"></div>
<div class="r" style="left:1550.75px;top:1119.00px;width:4.50px;height:196.25px;background:#acacc4;"></div>
<div class="r" style="left:1187.75px;top:1219.75px;width:186.50px;height:4.50px;background:#acacc4;"></div>
<div class="r" style="left:1187.75px;top:1222.00px;width:4.50px;height:93.25px;background:#acacc4;"></div>
<div class="r" style="left:1369.75px;top:1222.00px;width:4.50px;height:93.25px;background:#acacc4;"></div>
<div class="r" style="left:15.00px;top:1314.00px;width:177.00px;height:30.00px;background:#9a1818;"></div>
<div class="r" style="left:15.00px;top:1344.00px;width:177.00px;height:29.00px;background:#6aab30;"></div>
<div class="r" style="left:15.00px;top:1373.00px;width:177.00px;height:29.00px;background:#4d1614;"></div>
<div class="r" style="left:15.00px;top:1402.00px;width:177.00px;height:30.00px;background:#8c1515;"></div>
<div class="r" style="left:15.00px;top:1432.00px;width:177.00px;height:30.00px;background:#581612;"></div>
<div class="r" style="left:15.00px;top:1462.00px;width:177.00px;height:29.00px;background:#dd1010;"></div>
<div class="r" style="left:15.00px;top:1491.00px;width:177.00px;height:30.00px;background:#55a830;"></div>
<div class="r" style="left:15.00px;top:1521.00px;width:177.00px;height:29.00px;background:#1f5a30;"></div>
<div class="r" style="left:15.00px;top:1550.00px;width:177.00px;height:30.00px;background:#dd1010;"></div>
<div class="r" style="left:15.00px;top:1580.00px;width:177.00px;height:30.00px;background:#dd1010;"></div>
<div class="r" style="left:15.00px;top:1610.00px;width:177.00px;height:23.00px;background:#5a1515;"></div>
<div class="r" style="left:192.00px;top:1314.00px;width:181.00px;height:30.00px;background:#dd1010;"></div>
<div class="r" style="left:192.00px;top:1344.00px;width:181.00px;height:29.00px;background:#6aab30;"></div>
<div class="r" style="left:192.00px;top:1373.00px;width:181.00px;height:29.00px;background:#0a6a35;"></div>
<div class="r" style="left:192.00px;top:1402.00px;width:181.00px;height:30.00px;background:#6aab30;"></div>
<div class="r" style="left:192.00px;top:1432.00px;width:181.00px;height:30.00px;background:#6aab30;"></div>
<div class="r" style="left:192.00px;top:1462.00px;width:181.00px;height:29.00px;background:#dd1010;"></div>
<div class="r" style="left:192.00px;top:1491.00px;width:181.00px;height:30.00px;background:#6aab30;"></div>
<div class="r" style="left:192.00px;top:1521.00px;width:181.00px;height:29.00px;background:#55a830;"></div>
<div class="r" style="left:192.00px;top:1550.00px;width:181.00px;height:30.00px;background:#dd1010;"></div>
<div class="r" style="left:192.00px;top:1580.00px;width:181.00px;height:30.00px;background:#6aab30;"></div>
<div class="r" style="left:192.00px;top:1610.00px;width:181.00px;height:23.00px;background:#b01010;"></div>
<div class="r" style="left:373.00px;top:1314.00px;width:181.00px;height:30.00px;background:#dd1010;"></div>
<div class="r" style="left:373.00px;top:1344.00px;width:181.00px;height:29.00px;background:#6aab30;"></div>
<div class="r" style="left:373.00px;top:1373.00px;width:181.00px;height:29.00px;background:#5aab35;"></div>
<div class="r" style="left:373.00px;top:1402.00px;width:181.00px;height:30.00px;background:#2a3018;"></div>
<div class="r" style="left:373.00px;top:1432.00px;width:181.00px;height:30.00px;background:#7a1212;"></div>
<div class="r" style="left:373.00px;top:1462.00px;width:181.00px;height:29.00px;background:#dd1010;"></div>
<div class="r" style="left:373.00px;top:1491.00px;width:181.00px;height:30.00px;background:#0a6a35;"></div>
<div class="r" style="left:373.00px;top:1521.00px;width:181.00px;height:29.00px;background:#dd1010;"></div>
<div class="r" style="left:373.00px;top:1550.00px;width:181.00px;height:30.00px;background:#dd1010;"></div>
<div class="r" style="left:373.00px;top:1580.00px;width:181.00px;height:30.00px;background:#dd1010;"></div>
<div class="r" style="left:373.00px;top:1610.00px;width:181.00px;height:23.00px;background:#dd1010;"></div>
<div class="r" style="left:554.00px;top:1314.00px;width:181.00px;height:30.00px;background:#300c0c;"></div>
<div class="r" style="left:554.00px;top:1344.00px;width:181.00px;height:29.00px;background:#901818;"></div>
<div class="r" style="left:554.00px;top:1373.00px;width:181.00px;height:29.00px;background:#60a830;"></div>
<div class="r" style="left:554.00px;top:1402.00px;width:181.00px;height:30.00px;background:#40a838;"></div>
<div class="r" style="left:554.00px;top:1432.00px;width:181.00px;height:30.00px;background:#dd1010;"></div>
<div class="r" style="left:554.00px;top:1462.00px;width:181.00px;height:29.00px;background:#0a7a38;"></div>
<div class="r" style="left:554.00px;top:1491.00px;width:181.00px;height:30.00px;background:#088a3a;"></div>
<div class="r" style="left:554.00px;top:1521.00px;width:181.00px;height:29.00px;background:#300c0c;"></div>
<div class="r" style="left:554.00px;top:1550.00px;width:181.00px;height:30.00px;background:#4a1515;"></div>
<div class="r" style="left:554.00px;top:1580.00px;width:181.00px;height:30.00px;background:#55a830;"></div>
<div class="r" style="left:554.00px;top:1610.00px;width:181.00px;height:23.00px;background:#9a1818;"></div>
<div class="r" style="left:735.00px;top:1314.00px;width:182.00px;height:30.00px;background:#088a3a;"></div>
<div class="r" style="left:735.00px;top:1344.00px;width:182.00px;height:29.00px;background:#dd1010;"></div>
<div class="r" style="left:735.00px;top:1373.00px;width:182.00px;height:29.00px;background:#088a3a;"></div>
<div class="r" style="left:735.00px;top:1402.00px;width:182.00px;height:30.00px;background:#55a830;"></div>
<div class="r" style="left:735.00px;top:1432.00px;width:182.00px;height:30.00px;background:#300c0c;"></div>
<div class="r" style="left:735.00px;top:1462.00px;width:182.00px;height:29.00px;background:#9a1818;"></div>
<div class="r" style="left:735.00px;top:1491.00px;width:182.00px;height:30.00px;background:#205a30;"></div>
<div class="r" style="left:735.00px;top:1521.00px;width:182.00px;height:29.00px;background:#4a1515;"></div>
<div class="r" style="left:735.00px;top:1550.00px;width:182.00px;height:30.00px;background:#6aab30;"></div>
<div class="r" style="left:735.00px;top:1580.00px;width:182.00px;height:30.00px;background:#10a040;"></div>
<div class="r" style="left:735.00px;top:1610.00px;width:182.00px;height:23.00px;background:#b01010;"></div>
<div class="r" style="left:917.00px;top:1314.00px;width:181.00px;height:30.00px;background:#6a1515;"></div>
<div class="r" style="left:917.00px;top:1344.00px;width:181.00px;height:29.00px;background:#6a1515;"></div>
<div class="r" style="left:917.00px;top:1373.00px;width:181.00px;height:29.00px;background:#6aab30;"></div>
<div class="r" style="left:917.00px;top:1402.00px;width:181.00px;height:30.00px;background:#172f12;"></div>
<div class="r" style="left:917.00px;top:1432.00px;width:181.00px;height:30.00px;background:#dd1010;"></div>
<div class="r" style="left:917.00px;top:1462.00px;width:181.00px;height:29.00px;background:#088a3a;"></div>
<div class="r" style="left:917.00px;top:1491.00px;width:181.00px;height:30.00px;background:#dd1010;"></div>
<div class="r" style="left:917.00px;top:1521.00px;width:181.00px;height:29.00px;background:#dd1010;"></div>
<div class="r" style="left:917.00px;top:1550.00px;width:181.00px;height:30.00px;background:#172f12;"></div>
<div class="r" style="left:917.00px;top:1580.00px;width:181.00px;height:30.00px;background:#0a7038;"></div>
<div class="r" style="left:917.00px;top:1610.00px;width:181.00px;height:23.00px;background:#300c0c;"></div>
<div class="r" style="left:1098.00px;top:1314.00px;width:182.00px;height:30.00px;background:#6aab30;"></div>
<div class="r" style="left:1098.00px;top:1344.00px;width:182.00px;height:29.00px;background:#dd1010;"></div>
<div class="r" style="left:1098.00px;top:1373.00px;width:182.00px;height:29.00px;background:#dd1010;"></div>
<div class="r" style="left:1098.00px;top:1402.00px;width:182.00px;height:30.00px;background:#dd1010;"></div>
<div class="r" style="left:1098.00px;top:1432.00px;width:182.00px;height:30.00px;background:#6aab30;"></div>
<div class="r" style="left:1098.00px;top:1462.00px;width:182.00px;height:29.00px;background:#6aab30;"></div>
<div class="r" style="left:1098.00px;top:1491.00px;width:182.00px;height:30.00px;background:#c01010;"></div>
<div class="r" style="left:1098.00px;top:1521.00px;width:182.00px;height:29.00px;background:#6aab30;"></div>
<div class="r" style="left:1098.00px;top:1550.00px;width:182.00px;height:30.00px;background:#6aab30;"></div>
<div class="r" style="left:1098.00px;top:1580.00px;width:182.00px;height:30.00px;background:#c8c8cc;"></div>
<div class="r" style="left:1098.00px;top:1610.00px;width:182.00px;height:23.00px;background:#6aab30;"></div>
<div class="r" style="left:1280.00px;top:1314.00px;width:181.00px;height:30.00px;background:#55a830;"></div>
<div class="r" style="left:1280.00px;top:1344.00px;width:181.00px;height:29.00px;background:#088a3a;"></div>
<div class="r" style="left:1280.00px;top:1373.00px;width:181.00px;height:29.00px;background:#dd1010;"></div>
<div class="r" style="left:1280.00px;top:1402.00px;width:181.00px;height:30.00px;background:#dd1010;"></div>
<div class="r" style="left:1280.00px;top:1432.00px;width:181.00px;height:30.00px;background:#55a830;"></div>
<div class="r" style="left:1280.00px;top:1462.00px;width:181.00px;height:29.00px;background:#55a830;"></div>
<div class="r" style="left:1280.00px;top:1491.00px;width:181.00px;height:30.00px;background:#300c0c;"></div>
<div class="r" style="left:1280.00px;top:1521.00px;width:181.00px;height:29.00px;background:#088a3a;"></div>
<div class="r" style="left:1280.00px;top:1550.00px;width:181.00px;height:30.00px;background:#300c0c;"></div>
<div class="r" style="left:1280.00px;top:1580.00px;width:181.00px;height:30.00px;background:#300c0c;"></div>
<div class="r" style="left:1280.00px;top:1610.00px;width:181.00px;height:23.00px;background:#0a6a35;"></div>
<div class="r" style="left:1461.00px;top:1314.00px;width:181.00px;height:30.00px;background:#088a3a;"></div>
<div class="r" style="left:1461.00px;top:1344.00px;width:181.00px;height:29.00px;background:#b01010;"></div>
<div class="r" style="left:1461.00px;top:1373.00px;width:181.00px;height:29.00px;background:#300c0c;"></div>
<div class="r" style="left:1461.00px;top:1402.00px;width:181.00px;height:30.00px;background:#088a3a;"></div>
<div class="r" style="left:1461.00px;top:1432.00px;width:181.00px;height:30.00px;background:#300c0c;"></div>
<div class="r" style="left:1461.00px;top:1462.00px;width:181.00px;height:29.00px;background:#6aab30;"></div>
<div class="r" style="left:1461.00px;top:1491.00px;width:181.00px;height:30.00px;background:#881818;"></div>
<div class="r" style="left:1461.00px;top:1521.00px;width:181.00px;height:29.00px;background:#55a830;"></div>
<div class="r" style="left:1461.00px;top:1550.00px;width:181.00px;height:30.00px;background:#55a830;"></div>
<div class="r" style="left:1461.00px;top:1580.00px;width:181.00px;height:30.00px;background:#dd1010;"></div>
<div class="r" style="left:1461.00px;top:1610.00px;width:181.00px;height:23.00px;background:#6aab30;"></div>
<div class="r" style="left:15.00px;top:1343.00px;width:177.00px;height:3.00px;background:#826124;"></div>
<div class="r" style="left:192.00px;top:1343.00px;width:181.00px;height:3.00px;background:#a35d20;"></div>
<div class="r" style="left:373.00px;top:1343.00px;width:181.00px;height:3.00px;background:#a35d20;"></div>
<div class="r" style="left:554.00px;top:1343.00px;width:181.00px;height:3.00px;background:#601212;"></div>
<div class="r" style="left:735.00px;top:1343.00px;width:182.00px;height:3.00px;background:#724d25;"></div>
<div class="r" style="left:1098.00px;top:1343.00px;width:182.00px;height:3.00px;background:#a35d20;"></div>
<div class="r" style="left:1280.00px;top:1343.00px;width:181.00px;height:3.00px;background:#2e9935;"></div>
<div class="r" style="left:1461.00px;top:1343.00px;width:181.00px;height:3.00px;background:#5c4d25;"></div>
<div class="r" style="left:15.00px;top:1372.00px;width:177.00px;height:3.00px;background:#5b6022;"></div>
<div class="r" style="left:192.00px;top:1372.00px;width:181.00px;height:3.00px;background:#3a8a32;"></div>
<div class="r" style="left:373.00px;top:1372.00px;width:181.00px;height:3.00px;background:#62ab32;"></div>
<div class="r" style="left:554.00px;top:1372.00px;width:181.00px;height:3.00px;background:#786024;"></div>
<div class="r" style="left:735.00px;top:1372.00px;width:182.00px;height:3.00px;background:#724d25;"></div>
<div class="r" style="left:917.00px;top:1372.00px;width:181.00px;height:3.00px;background:#6a6022;"></div>
<div class="r" style="left:1280.00px;top:1372.00px;width:181.00px;height:3.00px;background:#724d25;"></div>
<div class="r" style="left:1461.00px;top:1372.00px;width:181.00px;height:3.00px;background:#700e0e;"></div>
<div class="r" style="left:15.00px;top:1401.00px;width:177.00px;height:3.00px;background:#6c1514;"></div>
<div class="r" style="left:192.00px;top:1401.00px;width:181.00px;height:3.00px;background:#3a8a32;"></div>
<div class="r" style="left:373.00px;top:1401.00px;width:181.00px;height:3.00px;background:#426d26;"></div>
<div class="r" style="left:554.00px;top:1401.00px;width:181.00px;height:3.00px;background:#50a834;"></div>
<div class="r" style="left:735.00px;top:1401.00px;width:182.00px;height:3.00px;background:#2e9935;"></div>
<div class="r" style="left:917.00px;top:1401.00px;width:181.00px;height:3.00px;background:#406d21;"></div>
<div class="r" style="left:1461.00px;top:1401.00px;width:181.00px;height:3.00px;background:#1c4b23;"></div>
<div class="r" style="left:15.00px;top:1431.00px;width:177.00px;height:3.00px;background:#721513;"></div>
<div class="r" style="left:373.00px;top:1431.00px;width:181.00px;height:3.00px;background:#522115;"></div>
<div class="r" style="left:554.00px;top:1431.00px;width:181.00px;height:3.00px;background:#8e5c24;"></div>
<div class="r" style="left:735.00px;top:1431.00px;width:182.00px;height:3.00px;background:#425a1e;"></div>
<div class="r" style="left:917.00px;top:1431.00px;width:181.00px;height:3.00px;background:#7a1f11;"></div>
<div class="r" style="left:1098.00px;top:1431.00px;width:182.00px;height:3.00px;background:#a35d20;"></div>
<div class="r" style="left:1280.00px;top:1431.00px;width:181.00px;height:3.00px;background:#995c20;"></div>
<div class="r" style="left:1461.00px;top:1431.00px;width:181.00px;height:3.00px;background:#1c4b23;"></div>
<div class="r" style="left:15.00px;top:1461.00px;width:177.00px;height:3.00px;background:#9a1311;"></div>
<div class="r" style="left:192.00px;top:1461.00px;width:181.00px;height:3.00px;background:#a35d20;"></div>
<div class="r" style="left:373.00px;top:1461.00px;width:181.00px;height:3.00px;background:#ab1111;"></div>
<div class="r" style="left:554.00px;top:1461.00px;width:181.00px;height:3.00px;background:#734524;"></div>
<div class="r" style="left:735.00px;top:1461.00px;width:182.00px;height:3.00px;background:#651212;"></div>
<div class="r" style="left:917.00px;top:1461.00px;width:181.00px;height:3.00px;background:#724d25;"></div>
<div class="r" style="left:1461.00px;top:1461.00px;width:181.00px;height:3.00px;background:#4d5b1e;"></div>
<div class="r" style="left:15.00px;top:1490.00px;width:177.00px;height:3.00px;background:#995c20;"></div>
<div class="r" style="left:192.00px;top:1490.00px;width:181.00px;height:3.00px;background:#a35d20;"></div>
<div class="r" style="left:373.00px;top:1490.00px;width:181.00px;height:3.00px;background:#733d22;"></div>
<div class="r" style="left:554.00px;top:1490.00px;width:181.00px;height:3.00px;background:#098239;"></div>
<div class="r" style="left:735.00px;top:1490.00px;width:182.00px;height:3.00px;background:#5d3924;"></div>
<div class="r" style="left:917.00px;top:1490.00px;width:181.00px;height:3.00px;background:#724d25;"></div>
<div class="r" style="left:1098.00px;top:1490.00px;width:182.00px;height:3.00px;background:#955d20;"></div>
<div class="r" style="left:1280.00px;top:1490.00px;width:181.00px;height:3.00px;background:#425a1e;"></div>
<div class="r" style="left:1461.00px;top:1490.00px;width:181.00px;height:3.00px;background:#796124;"></div>
<div class="r" style="left:15.00px;top:1520.00px;width:177.00px;height:3.00px;background:#3a8130;"></div>
<div class="r" style="left:192.00px;top:1520.00px;width:181.00px;height:3.00px;background:#5fa930;"></div>
<div class="r" style="left:373.00px;top:1520.00px;width:181.00px;height:3.00px;background:#733d22;"></div>
<div class="r" style="left:554.00px;top:1520.00px;width:181.00px;height:3.00px;background:#1c4b23;"></div>
<div class="r" style="left:735.00px;top:1520.00px;width:182.00px;height:3.00px;background:#353722;"></div>
<div class="r" style="left:1098.00px;top:1520.00px;width:182.00px;height:3.00px;background:#955d20;"></div>
<div class="r" style="left:1280.00px;top:1520.00px;width:181.00px;height:3.00px;background:#1c4b23;"></div>
<div class="r" style="left:1461.00px;top:1520.00px;width:181.00px;height:3.00px;background:#6e6024;"></div>
<div class="r" style="left:15.00px;top:1549.00px;width:177.00px;height:3.00px;background:#7e3520;"></div>
<div class="r" style="left:192.00px;top:1549.00px;width:181.00px;height:3.00px;background:#995c20;"></div>
<div class="r" style="left:554.00px;top:1549.00px;width:181.00px;height:3.00px;background:#3d1010;"></div>
<div class="r" style="left:735.00px;top:1549.00px;width:182.00px;height:3.00px;background:#5a6022;"></div>
<div class="r" style="left:917.00px;top:1549.00px;width:181.00px;height:3.00px;background:#7a1f11;"></div>
<div class="r" style="left:1280.00px;top:1549.00px;width:181.00px;height:3.00px;background:#1c4b23;"></div>
<div class="r" style="left:192.00px;top:1579.00px;width:181.00px;height:3.00px;background:#a35d20;"></div>
<div class="r" style="left:554.00px;top:1579.00px;width:181.00px;height:3.00px;background:#4f5e22;"></div>
<div class="r" style="left:735.00px;top:1579.00px;width:182.00px;height:3.00px;background:#3da538;"></div>
<div class="r" style="left:917.00px;top:1579.00px;width:181.00px;height:3.00px;background:#104f25;"></div>
<div class="r" style="left:1098.00px;top:1579.00px;width:182.00px;height:3.00px;background:#99b97e;"></div>
<div class="r" style="left:1461.00px;top:1579.00px;width:181.00px;height:3.00px;background:#995c20;"></div>
<div class="r" style="left:15.00px;top:1609.00px;width:177.00px;height:3.00px;background:#9b1212;"></div>
<div class="r" style="left:192.00px;top:1609.00px;width:181.00px;height:3.00px;background:#8d5d20;"></div>
<div class="r" style="left:554.00px;top:1609.00px;width:181.00px;height:3.00px;background:#776024;"></div>
<div class="r" style="left:735.00px;top:1609.00px;width:182.00px;height:3.00px;background:#605828;"></div>
<div class="r" style="left:917.00px;top:1609.00px;width:181.00px;height:3.00px;background:#1d3e22;"></div>
<div class="r" style="left:1098.00px;top:1609.00px;width:182.00px;height:3.00px;background:#99b97e;"></div>
<div class="r" style="left:1280.00px;top:1609.00px;width:181.00px;height:3.00px;background:#1d3b20;"></div>
<div class="r" style="left:1461.00px;top:1609.00px;width:181.00px;height:3.00px;background:#a35d20;"></div>
<div class="r" style="left:191.00px;top:1314.00px;width:3.00px;height:30.00px;background:#bb1414;"></div>
<div class="r" style="left:191.00px;top:1373.00px;width:3.00px;height:29.00px;background:#2b4024;"></div>
<div class="r" style="left:191.00px;top:1402.00px;width:3.00px;height:30.00px;background:#7b6022;"></div>
<div class="r" style="left:191.00px;top:1432.00px;width:3.00px;height:30.00px;background:#616021;"></div>
<div class="r" style="left:191.00px;top:1491.00px;width:3.00px;height:30.00px;background:#5fa930;"></div>
<div class="r" style="left:191.00px;top:1521.00px;width:3.00px;height:29.00px;background:#3a8130;"></div>
<div class="r" style="left:191.00px;top:1580.00px;width:3.00px;height:30.00px;background:#a35d20;"></div>
<div class="r" style="left:191.00px;top:1610.00px;width:3.00px;height:23.00px;background:#851212;"></div>
<div class="r" style="left:372.00px;top:1373.00px;width:3.00px;height:29.00px;background:#328a35;"></div>
<div class="r" style="left:372.00px;top:1402.00px;width:3.00px;height:30.00px;background:#4a6d24;"></div>
<div class="r" style="left:372.00px;top:1432.00px;width:3.00px;height:30.00px;background:#725e21;"></div>
<div class="r" style="left:372.00px;top:1491.00px;width:3.00px;height:30.00px;background:#3a8a32;"></div>
<div class="r" style="left:372.00px;top:1521.00px;width:3.00px;height:29.00px;background:#995c20;"></div>
<div class="r" style="left:372.00px;top:1580.00px;width:3.00px;height:30.00px;background:#a35d20;"></div>
<div class="r" style="left:372.00px;top:1610.00px;width:3.00px;height:23.00px;background:#c61010;"></div>
<div class="r" style="left:553.00px;top:1314.00px;width:3.00px;height:30.00px;background:#860e0e;"></div>
<div class="r" style="left:553.00px;top:1344.00px;width:3.00px;height:29.00px;background:#7d6124;"></div>
<div class="r" style="left:553.00px;top:1373.00px;width:3.00px;height:29.00px;background:#5da932;"></div>
<div class="r" style="left:553.00px;top:1402.00px;width:3.00px;height:30.00px;background:#356c28;"></div>
<div class="r" style="left:553.00px;top:1432.00px;width:3.00px;height:30.00px;background:#ab1111;"></div>
<div class="r" style="left:553.00px;top:1462.00px;width:3.00px;height:29.00px;background:#734524;"></div>
<div class="r" style="left:553.00px;top:1491.00px;width:3.00px;height:30.00px;background:#097a37;"></div>
<div class="r" style="left:553.00px;top:1521.00px;width:3.00px;height:29.00px;background:#860e0e;"></div>
<div class="r" style="left:553.00px;top:1550.00px;width:3.00px;height:30.00px;background:#931212;"></div>
<div class="r" style="left:553.00px;top:1580.00px;width:3.00px;height:30.00px;background:#995c20;"></div>
<div class="r" style="left:553.00px;top:1610.00px;width:3.00px;height:23.00px;background:#bb1414;"></div>
<div class="r" style="left:734.00px;top:1314.00px;width:3.00px;height:30.00px;background:#1c4b23;"></div>
<div class="r" style="left:734.00px;top:1344.00px;width:3.00px;height:29.00px;background:#b61414;"></div>
<div class="r" style="left:734.00px;top:1373.00px;width:3.00px;height:29.00px;background:#349935;"></div>
<div class="r" style="left:734.00px;top:1402.00px;width:3.00px;height:30.00px;background:#4aa834;"></div>
<div class="r" style="left:734.00px;top:1432.00px;width:3.00px;height:30.00px;background:#860e0e;"></div>
<div class="r" style="left:734.00px;top:1462.00px;width:3.00px;height:29.00px;background:#524928;"></div>
<div class="r" style="left:734.00px;top:1491.00px;width:3.00px;height:30.00px;background:#147235;"></div>
<div class="r" style="left:734.00px;top:1521.00px;width:3.00px;height:29.00px;background:#3d1010;"></div>
<div class="r" style="left:734.00px;top:1550.00px;width:3.00px;height:30.00px;background:#5a6022;"></div>
<div class="r" style="left:734.00px;top:1580.00px;width:3.00px;height:30.00px;background:#32a438;"></div>
<div class="r" style="left:734.00px;top:1610.00px;width:3.00px;height:23.00px;background:#a51414;"></div>
<div class="r" style="left:916.00px;top:1314.00px;width:3.00px;height:30.00px;background:#394f27;"></div>
<div class="r" style="left:916.00px;top:1344.00px;width:3.00px;height:29.00px;background:#a31212;"></div>
<div class="r" style="left:916.00px;top:1373.00px;width:3.00px;height:29.00px;background:#399a35;"></div>
<div class="r" style="left:916.00px;top:1402.00px;width:3.00px;height:30.00px;background:#366b21;"></div>
<div class="r" style="left:916.00px;top:1432.00px;width:3.00px;height:30.00px;background:#860e0e;"></div>
<div class="r" style="left:916.00px;top:1462.00px;width:3.00px;height:29.00px;background:#515129;"></div>
<div class="r" style="left:916.00px;top:1491.00px;width:3.00px;height:30.00px;background:#7e3520;"></div>
<div class="r" style="left:916.00px;top:1521.00px;width:3.00px;height:29.00px;background:#931212;"></div>
<div class="r" style="left:916.00px;top:1550.00px;width:3.00px;height:30.00px;background:#406d21;"></div>
<div class="r" style="left:916.00px;top:1580.00px;width:3.00px;height:30.00px;background:#0d883c;"></div>
<div class="r" style="left:916.00px;top:1610.00px;width:3.00px;height:23.00px;background:#700e0e;"></div>
<div class="r" style="left:1097.00px;top:1314.00px;width:3.00px;height:30.00px;background:#6a6022;"></div>
<div class="r" style="left:1097.00px;top:1344.00px;width:3.00px;height:29.00px;background:#a31212;"></div>
<div class="r" style="left:1097.00px;top:1373.00px;width:3.00px;height:29.00px;background:#a35d20;"></div>
<div class="r" style="left:1097.00px;top:1402.00px;width:3.00px;height:30.00px;background:#7a1f11;"></div>
<div class="r" style="left:1097.00px;top:1432.00px;width:3.00px;height:30.00px;background:#a35d20;"></div>
<div class="r" style="left:1097.00px;top:1462.00px;width:3.00px;height:29.00px;background:#399a35;"></div>
<div class="r" style="left:1097.00px;top:1491.00px;width:3.00px;height:30.00px;background:#ce1010;"></div>
<div class="r" style="left:1097.00px;top:1521.00px;width:3.00px;height:29.00px;background:#a35d20;"></div>
<div class="r" style="left:1097.00px;top:1550.00px;width:3.00px;height:30.00px;background:#406d21;"></div>
<div class="r" style="left:1097.00px;top:1580.00px;width:3.00px;height:30.00px;background:#699c82;"></div>
<div class="r" style="left:1097.00px;top:1610.00px;width:3.00px;height:23.00px;background:#4d5b1e;"></div>
<div class="r" style="left:1279.00px;top:1314.00px;width:3.00px;height:30.00px;background:#5fa930;"></div>
<div class="r" style="left:1279.00px;top:1344.00px;width:3.00px;height:29.00px;background:#724d25;"></div>
<div class="r" style="left:1279.00px;top:1432.00px;width:3.00px;height:30.00px;background:#5fa930;"></div>
<div class="r" style="left:1279.00px;top:1462.00px;width:3.00px;height:29.00px;background:#5fa930;"></div>
<div class="r" style="left:1279.00px;top:1491.00px;width:3.00px;height:30.00px;background:#780e0e;"></div>
<div class="r" style="left:1279.00px;top:1521.00px;width:3.00px;height:29.00px;background:#399a35;"></div>
<div class="r" style="left:1279.00px;top:1550.00px;width:3.00px;height:30.00px;background:#4d5b1e;"></div>
<div class="r" style="left:1279.00px;top:1580.00px;width:3.00px;height:30.00px;background:#7c6a6c;"></div>
<div class="r" style="left:1279.00px;top:1610.00px;width:3.00px;height:23.00px;background:#3a8a32;"></div>
<div class="r" style="left:1460.00px;top:1314.00px;width:3.00px;height:30.00px;background:#2e9935;"></div>
<div class="r" style="left:1460.00px;top:1344.00px;width:3.00px;height:29.00px;background:#5c4d25;"></div>
<div class="r" style="left:1460.00px;top:1373.00px;width:3.00px;height:29.00px;background:#860e0e;"></div>
<div class="r" style="left:1460.00px;top:1402.00px;width:3.00px;height:30.00px;background:#724d25;"></div>
<div class="r" style="left:1460.00px;top:1432.00px;width:3.00px;height:30.00px;background:#425a1e;"></div>
<div class="r" style="left:1460.00px;top:1462.00px;width:3.00px;height:29.00px;background:#5fa930;"></div>
<div class="r" style="left:1460.00px;top:1491.00px;width:3.00px;height:30.00px;background:#5c1212;"></div>
<div class="r" style="left:1460.00px;top:1521.00px;width:3.00px;height:29.00px;background:#2e9935;"></div>
<div class="r" style="left:1460.00px;top:1550.00px;width:3.00px;height:30.00px;background:#425a1e;"></div>
<div class="r" style="left:1460.00px;top:1580.00px;width:3.00px;height:30.00px;background:#860e0e;"></div>
<div class="r" style="left:1460.00px;top:1610.00px;width:3.00px;height:23.00px;background:#3a8a32;"></div>
<div class="r" style="left:376.00px;top:1415.00px;width:177.00px;height:5.00px;background:#052a08;"></div>
<div class="r" style="left:920.00px;top:1413.00px;width:176.00px;height:5.00px;background:#052805;"></div>
<div class="r" style="left:920.00px;top:1559.00px;width:176.00px;height:5.00px;background:#052805;"></div>
<div class="r" style="left:376.00px;top:1440.00px;width:177.00px;height:5.00px;background:#6a1510;"></div>
<div class="r" style="left:17.00px;top:1390.00px;width:174.00px;height:3.00px;background:#5a1515;"></div>
<div class="r" style="left:14.70px;top:1311.00px;width:1627.60px;height:3.00px;background:#a2a2a8;"></div>
<div class="r" style="left:15.00px;top:1314.00px;width:1627.00px;height:3.00px;background:rgba(0,0,0,0.62);"></div>
<div class="r" style="left:15.00px;top:1317.00px;width:1627.00px;height:3.00px;background:rgba(0,0,0,0.22);"></div>
<div class="t" style="left:14.62px;top:1638.75px;font-size:25.10px;font-weight:700;transform:scaleX(0.9010)">Basrah</div>
<div class="t" style="left:188.40px;top:1638.75px;font-size:25.10px;font-weight:700;transform:scaleX(0.9670)">Muttrah</div>
<div class="t" style="left:366.24px;top:1638.75px;font-size:25.10px;font-weight:700;transform:scaleX(0.9450)">Hofuf</div>
<div class="t" style="left:553.46px;top:1638.75px;font-size:25.10px;font-weight:700;transform:scaleX(0.9330)">Bahrain</div>
<div class="t" style="left:733.59px;top:1636.45px;font-size:25.10px;font-weight:700;transform:scaleX(0.9150)">Doha</div>
<div class="t" style="left:916.56px;top:1639.75px;font-size:25.10px;font-weight:700;transform:scaleX(0.9330)">Kuwait</div>
<div class="t" style="left:1102.46px;top:1638.15px;font-size:25.10px;font-weight:700;transform:scaleX(0.9360)">Bandar</div>
<div class="t" style="left:1102.55px;top:1665.75px;font-size:25.10px;font-weight:700;transform:scaleX(0.8810)">Abbas</div>
<div class="t" style="left:1281.36px;top:1638.15px;font-size:25.10px;font-weight:700;transform:scaleX(0.9360)">Bandar</div>
<div class="t" style="left:1281.40px;top:1664.55px;font-size:25.10px;font-weight:700;transform:scaleX(0.9110)">Lengeh</div>
<div class="t" style="left:1459.85px;top:1638.15px;font-size:25.10px;font-weight:700;transform:scaleX(0.9380)">Dubai</div>
<div class="t" style="left:1678.62px;top:1315.78px;font-size:22.70px;font-weight:700;transform:scaleX(0.9960)">Built area (%)</div>
<div class="t" style="left:1678.61px;top:1344.78px;font-size:22.70px;font-weight:700;transform:scaleX(1.0000)">Private unbuilt area (%)</div>
<div class="t" style="left:1678.62px;top:1373.78px;font-size:22.70px;font-weight:700;transform:scaleX(0.9950)">Public unbuilt area (%)</div>
<div class="t" style="left:1678.64px;top:1402.78px;font-size:22.70px;font-weight:700;transform:scaleX(0.9840)">Average street width (m)</div>
<div class="t" style="left:1678.62px;top:1431.78px;font-size:22.70px;font-weight:700;transform:scaleX(0.9920)">Primary roads (%)</div>
<div class="t" style="left:1678.71px;top:1460.78px;font-size:22.70px;font-weight:700;transform:scaleX(0.9380)">Cul de sacs (%)</div>
<div class="t" style="left:1678.60px;top:1489.78px;font-size:22.70px;font-weight:700;transform:scaleX(1.0050)">Median plot area (m²)</div>
<div class="t" style="left:1678.62px;top:1518.78px;font-size:22.70px;font-weight:700;transform:scaleX(0.9920)">Median cluster area (m²)</div>
<div class="t" style="left:1678.61px;top:1547.78px;font-size:22.70px;font-weight:700;transform:scaleX(1.0030)">Median footprint per plot (%)</div>
<div class="t" style="left:1678.61px;top:1576.78px;font-size:22.70px;font-weight:700;transform:scaleX(1.0020)">Median proximity</div>
<div class="t" style="left:1678.64px;top:1605.78px;font-size:22.70px;font-weight:700;transform:scaleX(0.9790)">to the mosque (m)</div>
<div class="t" style="left:1678.63px;top:1634.78px;font-size:22.70px;font-weight:700;transform:scaleX(0.9900)">Shared walls with</div>
<div class="t" style="left:1678.63px;top:1663.78px;font-size:22.70px;font-weight:700;transform:scaleX(0.9910)">adjacent plots (%)</div>
<div class="r" style="left:1658.30px;top:1323.90px;width:10.6px;height:10.6px;border-radius:50%;background:#000"></div>
<div class="r" style="left:1658.30px;top:1352.90px;width:10.6px;height:10.6px;border-radius:50%;background:#000"></div>
<div class="r" style="left:1658.30px;top:1381.90px;width:10.6px;height:10.6px;border-radius:50%;background:#000"></div>
<div class="r" style="left:1658.30px;top:1410.90px;width:10.6px;height:10.6px;border-radius:50%;background:#000"></div>
<div class="r" style="left:1658.30px;top:1439.90px;width:10.6px;height:10.6px;border-radius:50%;background:#000"></div>
<div class="r" style="left:1658.30px;top:1468.90px;width:10.6px;height:10.6px;border-radius:50%;background:#000"></div>
<div class="r" style="left:1658.30px;top:1497.90px;width:10.6px;height:10.6px;border-radius:50%;background:#000"></div>
<div class="r" style="left:1658.30px;top:1526.90px;width:10.6px;height:10.6px;border-radius:50%;background:#000"></div>
<div class="r" style="left:1658.30px;top:1555.90px;width:10.6px;height:10.6px;border-radius:50%;background:#000"></div>
<div class="r" style="left:1658.30px;top:1584.90px;width:10.6px;height:10.6px;border-radius:50%;background:#000"></div>
<div class="r" style="left:1658.30px;top:1642.90px;width:10.6px;height:10.6px;border-radius:50%;background:#000"></div>
</body></html>
